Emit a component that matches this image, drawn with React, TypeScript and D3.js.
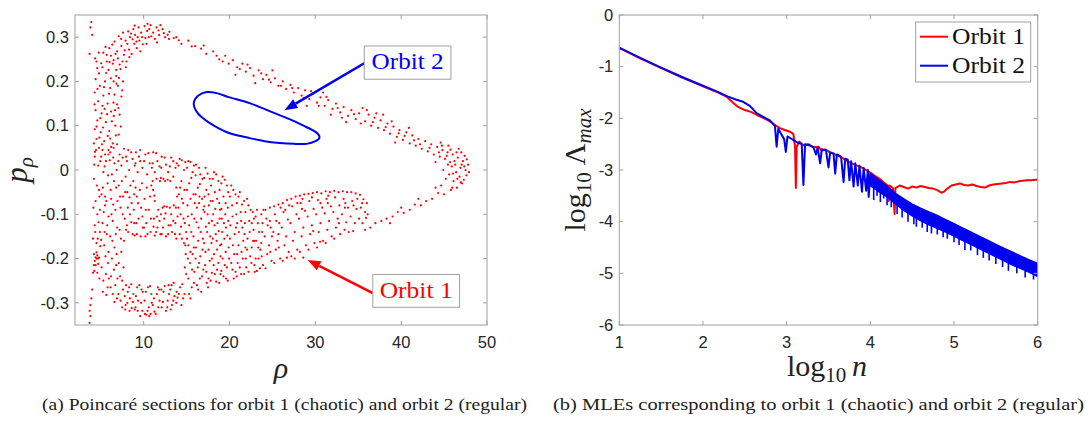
import React from 'react';
import * as d3 from 'd3';

// ---------------- Axis ticks ----------------
const rhoTicks = [10, 20, 30, 40, 50];
const pTicks = [-0.3, -0.2, -0.1, 0, 0.1, 0.2, 0.3];
const nTicks = [1, 2, 3, 4, 5, 6];
const lambdaTicks = [0, -1, -2, -3, -4, -5, -6];

type P = [number, number];

// ---------------- Panel (a): Poincaré section, orbit 1 (chaotic) ----------------
const orbit1LeftEdge: P[] = [
  [3.9, 0.334], [3.8, 0.322], [4.0, 0.305], [3.7, 0.262], [3.8, -0.305], [3.7, -0.318], [3.8, -0.33],
  [3.7, -0.345], [3.9, -0.29], [4.0, -0.27], [4.1, -0.232], [4.2, -0.215],
];
const orbit1UpperBand: P[] = [
  [4.5, 0.245], [5.2, 0.232], [4.8, 0.218], [5.9, 0.226], [6.4, 0.24], [4.4, 0.205], [5.5, 0.2], [6.8, 0.212],
  [7.3, 0.228], [4.9, 0.19], [6.1, 0.185], [7.0, 0.19], [4.3, 0.175], [5.3, 0.168], [6.6, 0.17], [7.5, 0.18],
  [4.7, 0.155], [5.8, 0.15], [6.9, 0.148], [4.4, 0.135], [5.1, 0.128], [6.2, 0.132], [7.2, 0.125], [4.6, 0.112],
  [5.6, 0.108], [6.7, 0.1], [4.3, 0.092], [5.0, 0.085], [6.0, 0.088], [7.1, 0.08], [4.5, 0.07], [5.4, 0.065],
  [6.4, 0.06], [4.8, 0.05], [5.9, 0.045], [4.2, 0.06], [6.9, 0.058], [5.2, 0.145], [6.5, 0.2], [5.7, 0.245],
  [4.6, 0.23], [7.6, 0.2], [6.3, 0.11], [5.5, 0.035],
  [4.35, 0.252], [5.05, 0.241], [5.62, 0.219], [6.17, 0.207], [6.83, 0.195], [7.41, 0.166], [4.62, 0.183],
  [5.38, 0.187], [5.96, 0.172], [6.48, 0.152], [7.05, 0.14], [4.28, 0.148], [4.95, 0.117], [5.74, 0.126],
  [6.52, 0.122], [7.34, 0.098], [4.51, 0.098], [5.26, 0.096], [6.09, 0.071], [6.77, 0.078], [4.33, 0.041],
  [5.14, 0.058], [5.81, 0.077], [6.21, 0.052], [4.77, 0.265], [6.02, 0.244], [7.12, 0.208], [5.45, 0.138],
  [4.84, 0.073], [6.66, 0.135],
];
const orbit1TopArc: P[] = [
  [5.3, 0.265], [6.0, 0.275], [6.6, 0.29], [7.1, 0.302], [7.6, 0.31], [8.2, 0.313], [8.8, 0.318], [9.4, 0.322],
  [10.1, 0.325], [10.8, 0.327], [11.5, 0.322], [12.2, 0.318], [13.0, 0.312], [6.2, 0.258], [6.9, 0.268],
  [7.4, 0.28], [7.9, 0.292], [8.4, 0.3], [9.0, 0.305], [9.7, 0.31], [10.4, 0.314], [11.1, 0.31], [11.8, 0.305],
  [7.0, 0.252], [7.7, 0.26], [8.3, 0.272], [8.9, 0.285], [9.5, 0.292], [10.2, 0.298], [10.9, 0.302], [12.5, 0.3],
  [7.2, 0.238], [8.0, 0.245], [8.6, 0.262], [9.2, 0.275], [9.9, 0.284], [5.7, 0.26], [6.5, 0.248], [8.1, 0.285],
  [9.3, 0.3], [11.3, 0.296], [12.8, 0.305], [13.5, 0.298], [7.8, 0.27], [6.8, 0.226], [8.7, 0.295], [10.6, 0.3],
  [5.55, 0.278], [6.35, 0.283], [7.38, 0.296], [8.52, 0.308], [9.15, 0.29], [9.82, 0.3], [10.65, 0.318],
  [11.72, 0.315], [12.35, 0.309], [7.52, 0.245], [8.34, 0.255], [9.61, 0.268], [10.33, 0.285], [11.55, 0.288],
  [8.95, 0.326], [10.45, 0.33], [6.72, 0.262], [7.92, 0.232], [12.95, 0.296], [11.95, 0.327],
];
const orbit1OuterBand: P[] = [
  [13.8, 0.3], [14.4, 0.285], [15.2, 0.292], [16.0, 0.28], [16.7, 0.274], [17.3, 0.262], [18.1, 0.268],
  [18.8, 0.25], [19.5, 0.258], [19.9, 0.24], [20.4, 0.248], [20.9, 0.232], [21.5, 0.24], [21.9, 0.222],
  [22.4, 0.23], [22.8, 0.213], [23.4, 0.225], [23.9, 0.205], [24.3, 0.215], [24.8, 0.198], [25.3, 0.207],
  [25.7, 0.19], [26.2, 0.2], [26.6, 0.183], [27.1, 0.192], [27.5, 0.175], [28.0, 0.185], [20.7, 0.215],
  [23.0, 0.196], [25.0, 0.225], [28.4, 0.168], [28.8, 0.18], [29.3, 0.16], [29.7, 0.172], [30.2, 0.152],
  [30.6, 0.164], [31.1, 0.145], [31.5, 0.158], [32.0, 0.138], [32.4, 0.15], [32.9, 0.13], [33.3, 0.142],
  [33.8, 0.122], [34.2, 0.135], [34.7, 0.115], [35.1, 0.128], [29.0, 0.145], [31.8, 0.125], [30.9, 0.175],
  [33.6, 0.108], [35.5, 0.14], [35.8, 0.11], [36.2, 0.125], [36.5, 0.1], [36.9, 0.118], [37.3, 0.095],
  [37.6, 0.112], [38.0, 0.09], [38.4, 0.105], [38.7, 0.082], [39.1, 0.098], [39.5, 0.075], [39.8, 0.09],
  [40.2, 0.068], [40.6, 0.085], [41.0, 0.06], [41.3, 0.078], [41.7, 0.055], [42.0, 0.07], [36.0, 0.135],
  [37.9, 0.125], [39.3, 0.062], [40.9, 0.095], [38.9, 0.11],
  [14.1, 0.293], [15.6, 0.279], [17.0, 0.281], [18.5, 0.258], [19.2, 0.245], [21.2, 0.228], [22.1, 0.238],
  [23.7, 0.218], [24.6, 0.204], [26.0, 0.19], [27.3, 0.185], [28.6, 0.162], [29.5, 0.178], [30.4, 0.145],
  [31.3, 0.165], [32.6, 0.14], [33.1, 0.118], [34.5, 0.126], [35.3, 0.105], [36.7, 0.108], [37.1, 0.128],
  [38.2, 0.097], [39.7, 0.083], [40.4, 0.077], [41.5, 0.067], [42.2, 0.058], [43.3, 0.05],
];
const orbit1Tip: P[] = [
  [42.4, 0.048], [42.8, 0.065], [43.1, 0.042], [43.5, 0.058], [43.8, 0.035], [44.2, 0.052], [44.5, 0.03],
  [44.8, 0.045], [45.1, 0.025], [45.4, 0.04], [45.7, 0.018], [46.0, 0.035], [46.3, 0.012], [46.6, 0.028],
  [46.9, 0.005], [47.2, 0.02], [47.5, 0.0], [47.8, 0.012], [47.6, -0.012], [47.3, -0.022], [46.8, -0.015],
  [46.4, -0.005], [45.9, 0.008], [45.5, 0.055], [44.6, 0.062], [47.0, 0.04], [46.1, -0.025], [45.6, -0.01],
  [44.9, 0.0], [44.0, 0.018], [47.9, -0.005], [46.7, 0.048], [45.2, -0.02], [47.4, 0.032],
  [44.4, 0.04], [45.3, 0.032], [46.2, 0.02], [47.05, 0.012], [46.45, 0.04], [45.75, 0.046], [44.75, 0.055],
  [47.65, 0.024], [46.95, -0.028], [45.95, -0.04], [44.65, -0.035], [46.55, -0.02], [45.45, 0.012],
  [47.35, 0.008], [46.05, -0.008],
];
const orbit1ReturnBranch: P[] = [
  [47.1, -0.03], [46.5, -0.04], [45.8, -0.045], [45.0, -0.055], [44.3, -0.052], [43.6, -0.065], [42.9, -0.07],
  [42.3, -0.08], [41.6, -0.078], [41.0, -0.09], [40.3, -0.097], [39.6, -0.095], [39.0, -0.105], [38.3, -0.11],
  [37.7, -0.115], [37.0, -0.12], [36.4, -0.13], [35.8, -0.135], [44.0, -0.04], [42.0, -0.065], [40.0, -0.085],
  [38.7, -0.12],
];
const orbit1LowerLeft: P[] = [
  [4.3, 0.03], [4.7, 0.01], [4.2, -0.02], [4.8, -0.045], [4.4, -0.07], [4.6, -0.1], [4.3, -0.125], [4.9, -0.14],
  [4.5, -0.165], [4.2, -0.19], [4.7, -0.2], [4.4, -0.215], [4.6, -0.232], [4.9, -0.09], [4.1, -0.155],
  [4.4, -0.197], [4.6, -0.193], [4.8, -0.198], [4.5, -0.2],
  [4.25, 0.012], [4.55, -0.035], [4.85, -0.06], [4.15, -0.085], [4.75, -0.118], [4.35, -0.14], [4.65, -0.155],
  [4.95, -0.172], [4.25, -0.228], [4.85, -0.245], [4.45, 0.045], [4.95, 0.02], [4.5, -0.186], [4.3, -0.205],
  [4.7, -0.212],
  [5.2, 0.045], [5.6, 0.02], [5.3, -0.005], [5.8, -0.03], [5.1, -0.055], [5.5, -0.08], [5.9, -0.105],
  [5.2, -0.12], [5.7, -0.145], [5.4, -0.17], [5.9, -0.185], [5.1, -0.22], [5.6, -0.235], [5.3, -0.25],
  [5.8, -0.265], [5.5, -0.06], [5.9, 0.035],
  [5.05, 0.03], [5.45, 0.008], [5.85, -0.012], [5.25, -0.04], [5.65, -0.07], [5.35, -0.095], [5.75, -0.125],
  [5.05, -0.158], [5.55, -0.195], [5.85, -0.21], [5.25, -0.275], [5.65, -0.282], [5.45, -0.14], [5.95, -0.245],
  [6.1, 0.04], [6.6, 0.015], [6.3, -0.01], [6.8, -0.04], [6.2, -0.065], [6.7, -0.09], [6.4, -0.115],
  [6.9, -0.13], [6.1, -0.15], [6.6, -0.175], [6.3, -0.2], [6.8, -0.215], [6.2, -0.24], [6.7, -0.26],
  [6.4, -0.28], [6.9, -0.29], [6.5, 0.05],
  [6.05, 0.022], [6.45, 0.028], [6.85, 0.0], [6.55, -0.025], [6.15, -0.045], [6.45, -0.078], [6.95, -0.07],
  [6.25, -0.1], [6.75, -0.145], [6.35, -0.16], [6.85, -0.19], [6.55, -0.225], [6.15, -0.265], [6.6, -0.298],
  [6.95, -0.245],
  [7.2, 0.035], [7.7, 0.048], [7.4, 0.01], [7.9, -0.015], [7.1, -0.035], [7.6, -0.06], [7.3, -0.085],
  [7.8, -0.11], [7.2, -0.135], [7.7, -0.16], [7.4, -0.185], [7.1, -0.21], [7.6, -0.27], [7.3, -0.295],
  [7.9, -0.305], [7.5, -0.25], [7.8, -0.285],
  [7.05, 0.02], [7.55, 0.028], [7.95, 0.03], [7.45, -0.025], [7.85, -0.05], [7.25, -0.06], [7.55, -0.1],
  [7.95, -0.135], [7.35, -0.155], [7.65, -0.22], [7.25, -0.24], [7.95, -0.26], [7.05, -0.28], [7.5, -0.31],
  [7.85, -0.315],
  [8.2, 0.045], [8.7, 0.025], [8.3, 0.0], [8.8, -0.025], [8.1, -0.05], [8.6, -0.075], [8.4, -0.1],
  [8.9, -0.12], [8.2, -0.14], [8.7, -0.145], [8.3, -0.265], [8.8, -0.28], [8.1, -0.3], [8.6, -0.312],
  [8.4, -0.29], [8.9, -0.055],
  [8.05, 0.02], [8.55, 0.04], [8.95, 0.01], [8.45, -0.035], [8.35, -0.062], [8.85, -0.09], [8.15, -0.085],
  [8.55, -0.118], [8.05, -0.125], [8.95, -0.148], [8.55, -0.258], [8.15, -0.275], [8.75, -0.298],
  [8.35, -0.318], [8.95, -0.315],
  [9.1, 0.04], [9.6, 0.02], [9.3, -0.005], [9.8, -0.03], [9.2, -0.06], [9.7, -0.085], [9.4, -0.11],
  [9.9, -0.13], [9.2, -0.145], [9.5, -0.26], [9.1, -0.285], [9.7, -0.3], [9.3, -0.318], [9.9, -0.275],
  [9.6, 0.045],
  [9.05, 0.015], [9.45, 0.03], [9.85, 0.005], [9.55, -0.045], [9.05, -0.04], [9.35, -0.075], [9.85, -0.105],
  [9.15, -0.12], [9.65, -0.15], [9.25, -0.265], [9.75, -0.27], [9.35, -0.295], [9.85, -0.318], [9.05, -0.31],
  [9.6, -0.33],
  [10.2, 0.035], [10.7, 0.015], [10.4, -0.01], [10.9, -0.035], [10.1, -0.065], [10.6, -0.09], [10.3, -0.12],
  [10.8, -0.14], [10.5, -0.265], [10.1, -0.295], [10.6, -0.31], [10.3, -0.327], [10.8, -0.325], [10.9, -0.28],
  [10.2, -0.15],
  [10.05, 0.02], [10.55, 0.038], [10.95, 0.005], [10.35, -0.04], [10.75, -0.06], [10.25, -0.09],
  [10.85, -0.11], [10.45, -0.145], [10.05, -0.13], [10.75, -0.262], [10.25, -0.275], [10.95, -0.3],
  [10.45, -0.318], [10.65, -0.33], [10.15, -0.325],
  [11.1, 0.04], [11.6, 0.02], [11.3, -0.005], [11.1, -0.045], [11.3, -0.07], [11.7, -0.09], [11.2, -0.11],
  [11.6, -0.13], [11.3, -0.148], [11.8, -0.27], [11.2, -0.29], [11.7, -0.31], [11.4, -0.325], [11.9, -0.025],
  [11.5, -0.02],
  [11.05, 0.015], [11.45, 0.038], [11.85, 0.008], [11.05, -0.025], [11.25, -0.058], [11.55, -0.105],
  [11.85, -0.115], [11.45, -0.14], [11.95, -0.145], [11.15, -0.128], [11.55, -0.28], [11.05, -0.305],
  [11.85, -0.295], [11.25, -0.32], [11.65, -0.265],
  [12.1, 0.03], [12.6, 0.012], [12.3, -0.02], [12.8, -0.022], [12.2, -0.085], [12.7, -0.083], [12.4, -0.11],
  [12.9, -0.125], [12.1, -0.145], [12.6, -0.15], [12.3, -0.275], [12.8, -0.295], [12.1, -0.31], [12.6, -0.318],
  [12.9, -0.26],
  [12.05, 0.005], [12.45, 0.028], [12.85, -0.005], [12.5, -0.025], [12.0, -0.018], [12.4, -0.082],
  [12.0, -0.1], [12.55, -0.098], [12.85, -0.145], [12.25, -0.13], [12.45, -0.262], [12.95, -0.28],
  [12.25, -0.298], [12.75, -0.31], [12.05, -0.27],
  [13.2, 0.028], [13.7, 0.005], [13.1, -0.025], [13.8, -0.04], [13.9, -0.06], [13.5, -0.08], [13.2, -0.1],
  [13.7, -0.12], [13.3, -0.14], [13.8, -0.155], [13.1, -0.27], [13.6, -0.285], [13.3, -0.305], [13.8, -0.3],
  [13.5, -0.255],
  [13.05, 0.008], [13.45, 0.02], [13.85, 0.015], [13.45, -0.015], [13.75, -0.085], [13.05, -0.085],
  [13.45, -0.115], [13.95, -0.105], [13.15, -0.125], [13.65, -0.145], [13.25, -0.26], [13.85, -0.275],
  [13.45, -0.295], [13.95, -0.288], [13.15, -0.315],
  [14.2, 0.025], [14.7, 0.0], [14.4, -0.025], [14.1, -0.055], [14.6, -0.075], [14.3, -0.1], [14.8, -0.12],
  [14.2, -0.145], [14.7, -0.165], [14.9, -0.19], [14.5, -0.258], [14.1, -0.28], [14.6, -0.29], [14.8, -0.22],
  [14.4, -0.305],
  [14.05, 0.01], [14.45, 0.022], [14.85, 0.018], [14.25, -0.04], [14.75, -0.045], [14.45, -0.065],
  [14.05, -0.085], [14.65, -0.11], [14.35, -0.128], [14.95, -0.14], [14.45, -0.155], [14.85, -0.17],
  [14.95, -0.235], [14.25, -0.265], [14.75, -0.28],
  [15.2, 0.02], [15.7, -0.005], [15.3, -0.03], [15.8, -0.055], [15.1, -0.08], [15.6, -0.1], [15.3, -0.125],
  [15.8, -0.15], [15.2, -0.17], [15.7, -0.19], [15.4, -0.21], [15.9, -0.23], [15.2, -0.245], [15.6, -0.265],
  [15.3, -0.28], [15.9, -0.11],
  [15.05, 0.005], [15.45, 0.018], [15.85, 0.01], [15.55, -0.018], [15.05, -0.045], [15.45, -0.065],
  [15.95, -0.075], [15.15, -0.105], [15.55, -0.14], [15.05, -0.155], [15.85, -0.175], [15.45, -0.185],
  [15.15, -0.2], [15.65, -0.225], [15.85, -0.255], [15.45, -0.29],
  [16.1, 0.012], [16.6, -0.01], [16.3, -0.04], [16.8, -0.065], [16.2, -0.085], [16.7, -0.11], [16.4, -0.13],
  [16.9, -0.155], [16.1, -0.175], [16.6, -0.195], [16.3, -0.22], [16.8, -0.24], [16.2, -0.26], [16.7, -0.275],
  [16.5, -0.06],
  [16.05, -0.012], [16.45, 0.005], [16.85, -0.02], [16.55, -0.032], [16.05, -0.055], [16.45, -0.075],
  [16.95, -0.09], [16.15, -0.118], [16.65, -0.14], [16.35, -0.16], [16.85, -0.18], [16.05, -0.2],
  [16.45, -0.21], [16.95, -0.225], [16.55, -0.245], [16.35, -0.27],
  [17.2, 0.005], [17.7, -0.02], [17.3, -0.045], [17.8, -0.07], [17.1, -0.095], [17.6, -0.12], [17.4, -0.14],
  [17.9, -0.165], [17.2, -0.185], [17.7, -0.205], [17.3, -0.23], [17.8, -0.25], [17.5, -0.265], [17.1, -0.06],
  [17.6, -0.08],
  [17.05, -0.018], [17.45, -0.008], [17.85, -0.035], [17.55, -0.055], [17.05, -0.082], [17.45, -0.1],
  [17.95, -0.115], [17.25, -0.128], [17.75, -0.15], [17.05, -0.165], [17.55, -0.18], [17.95, -0.2],
  [17.15, -0.215], [17.55, -0.245], [17.95, -0.232], [17.35, -0.255],
  [18.2, -0.005], [18.7, -0.025], [18.3, -0.05], [18.8, -0.075], [18.1, -0.1], [18.6, -0.12], [18.4, -0.145],
  [18.9, -0.17], [18.2, -0.19], [18.7, -0.21], [18.3, -0.235], [18.8, -0.255], [18.5, -0.16], [18.9, -0.09],
  [18.05, -0.02], [18.45, -0.01], [18.85, -0.045], [18.55, -0.065], [18.05, -0.07], [18.35, -0.088],
  [18.85, -0.11], [18.25, -0.125], [18.75, -0.138], [18.05, -0.155], [18.55, -0.18], [18.95, -0.195],
  [18.15, -0.215], [18.55, -0.225], [18.95, -0.235], [18.45, -0.252],
  [19.2, -0.015], [19.7, -0.035], [19.3, -0.06], [19.8, -0.085], [19.1, -0.11], [19.6, -0.13], [19.4, -0.155],
  [19.9, -0.175], [19.2, -0.2], [19.7, -0.22], [19.3, -0.24], [19.8, -0.25], [19.5, -0.1],
  [19.05, -0.03], [19.45, -0.022], [19.85, -0.05], [19.55, -0.075], [19.05, -0.088], [19.35, -0.12],
  [19.85, -0.115], [19.15, -0.14], [19.75, -0.148], [19.05, -0.168], [19.55, -0.185], [19.95, -0.2],
  [19.45, -0.215], [19.05, -0.228], [19.6, -0.245],
];
const orbit1RightLobe: P[] = [
  [20.2, -0.035], [20.7, -0.055], [20.3, -0.08], [20.8, -0.1], [20.1, -0.125], [20.6, -0.145], [20.4, -0.17],
  [20.9, -0.19], [20.2, -0.21], [20.7, -0.23], [20.5, -0.245], [20.9, -0.12],
  [21.2, -0.05], [21.7, -0.07], [21.3, -0.095], [21.8, -0.12], [21.1, -0.14], [21.6, -0.16], [21.4, -0.185],
  [21.9, -0.2], [21.2, -0.22], [21.7, -0.235], [21.5, -0.13],
  [22.2, -0.08], [22.7, -0.095], [22.3, -0.115], [22.8, -0.135], [22.1, -0.155], [22.6, -0.175], [22.4, -0.195],
  [22.9, -0.215], [22.2, -0.23], [22.6, -0.12], [22.9, -0.16],
  [23.2, -0.09], [23.7, -0.1], [23.3, -0.12], [23.8, -0.14], [23.1, -0.16], [23.6, -0.18], [23.4, -0.2],
  [23.9, -0.215], [23.2, -0.228], [23.7, -0.165],
  [24.2, -0.09], [24.7, -0.085], [24.3, -0.11], [24.8, -0.13], [24.1, -0.15], [24.6, -0.17], [24.4, -0.19],
  [24.9, -0.205], [24.2, -0.222], [24.7, -0.115],
  [25.2, -0.082], [25.7, -0.078], [25.3, -0.1], [25.8, -0.12], [25.1, -0.14], [25.6, -0.16], [25.4, -0.18],
  [25.9, -0.2], [25.2, -0.21], [25.7, -0.145],
  [26.2, -0.075], [26.7, -0.068], [26.3, -0.095], [26.8, -0.112], [26.1, -0.13], [26.6, -0.15], [26.4, -0.17],
  [26.9, -0.185], [26.2, -0.205], [26.7, -0.198], [26.5, -0.09],
  [27.2, -0.065], [27.7, -0.06], [27.3, -0.082], [27.8, -0.1], [27.1, -0.12], [27.6, -0.14], [27.4, -0.16],
  [27.9, -0.18], [27.2, -0.195], [27.6, -0.2], [27.9, -0.075],
  [28.2, -0.058], [28.7, -0.055], [28.3, -0.075], [28.8, -0.092], [28.1, -0.11], [28.6, -0.13], [28.4, -0.15],
  [28.9, -0.17], [28.2, -0.185], [28.6, -0.198], [28.5, -0.065],
  [29.2, -0.054], [29.7, -0.052], [29.3, -0.07], [29.8, -0.088], [29.1, -0.105], [29.6, -0.125], [29.4, -0.145],
  [29.9, -0.165], [29.2, -0.18], [29.6, -0.062],
  [30.2, -0.05], [30.7, -0.053], [30.3, -0.068], [30.8, -0.085], [30.1, -0.1], [30.6, -0.12], [30.4, -0.14],
  [30.9, -0.16], [30.2, -0.175], [30.6, -0.075],
  [31.2, -0.048], [31.7, -0.05], [31.3, -0.065], [31.8, -0.082], [31.1, -0.098], [31.6, -0.115], [31.4, -0.135],
  [31.9, -0.15], [31.2, -0.165], [31.5, -0.058],
  [32.2, -0.047], [32.7, -0.05], [32.3, -0.062], [32.8, -0.08], [32.1, -0.095], [32.6, -0.11], [32.4, -0.13],
  [32.9, -0.145], [32.2, -0.155],
  [33.2, -0.048], [33.7, -0.05], [33.3, -0.065], [33.8, -0.085], [33.1, -0.1], [33.6, -0.118], [33.4, -0.135],
  [33.9, -0.14], [33.5, -0.075],
  [34.2, -0.05], [34.7, -0.053], [34.3, -0.07], [34.8, -0.088], [34.1, -0.105], [34.6, -0.12], [34.4, -0.138],
  [34.9, -0.065],
  [35.2, -0.056], [35.6, -0.066], [35.3, -0.085], [35.8, -0.095], [35.1, -0.11], [35.5, -0.12], [35.9, -0.108],
  [20.05, -0.06], [20.45, -0.045], [20.85, -0.075], [20.35, -0.105], [20.75, -0.13], [20.05, -0.155],
  [20.55, -0.19], [20.95, -0.21], [20.35, -0.225], [20.85, -0.24], [21.05, -0.06], [21.45, -0.078],
  [21.85, -0.095], [21.35, -0.115], [21.75, -0.145], [21.05, -0.17], [21.55, -0.2], [21.95, -0.22],
  [21.35, -0.235], [21.85, -0.175],
  [22.05, -0.065], [22.45, -0.09], [22.85, -0.11], [22.35, -0.14], [22.75, -0.16], [22.05, -0.18],
  [22.55, -0.21], [22.95, -0.23], [23.05, -0.105], [23.45, -0.14], [23.85, -0.12], [23.35, -0.175],
  [23.75, -0.195], [23.05, -0.2], [23.55, -0.222], [23.95, -0.09],
  [24.45, -0.125], [24.75, -0.185], [24.95, -0.15], [25.45, -0.115], [25.75, -0.175], [25.95, -0.085],
  [26.95, -0.08], [28.45, -0.088], [29.75, -0.138], [30.55, -0.162], [31.45, -0.075], [32.75, -0.12],
  [33.45, -0.085], [34.45, -0.08], [35.45, -0.075], [36.1, -0.1], [36.0, -0.075],
];
const orbit1Points: P[] = [
  ...orbit1LeftEdge, ...orbit1UpperBand, ...orbit1TopArc, ...orbit1OuterBand, ...orbit1Tip,
  ...orbit1ReturnBranch, ...orbit1LowerLeft, ...orbit1RightLobe,
];

// ---------------- Panel (a): orbit 2 (regular) closed curve ----------------
const orbit2Section: P[] = [
  [15.84, 0.151], [16.3, 0.167], [17.35, 0.176], [18.63, 0.173], [20.02, 0.164], [22.35, 0.151],
  [24.67, 0.133], [27.0, 0.115], [28.74, 0.099], [30.02, 0.086], [30.49, 0.074], [30.02, 0.065],
  [28.98, 0.059], [27.58, 0.059], [25.84, 0.061], [24.09, 0.065], [22.35, 0.072], [20.02, 0.083],
  [18.28, 0.099], [16.77, 0.119], [16.07, 0.135],
];

// ---------------- Panel (b): MLE curves ----------------
const mleOrbit1: P[] = [
  [1.0, -0.64], [1.25, -0.84], [1.5, -1.03], [1.75, -1.21], [2.0, -1.38], [2.15, -1.48], [2.28, -1.58],
  [2.36, -1.7], [2.42, -1.78], [2.5, -1.84], [2.58, -1.88], [2.65, -1.94], [2.72, -1.99], [2.8, -2.06],
  [2.87, -2.14], [2.92, -2.19], [2.97, -2.22], [3.04, -2.26], [3.08, -2.3], [3.1, -2.55], [3.11, -3.35],
  [3.12, -2.55], [3.15, -2.45], [3.2, -2.52], [3.26, -2.5], [3.32, -2.56], [3.38, -2.55], [3.42, -2.63],
  [3.46, -2.6], [3.52, -2.66], [3.58, -2.7], [3.64, -2.74], [3.7, -2.8], [3.76, -2.86], [3.82, -2.9],
  [3.88, -2.94], [3.94, -2.99], [4.0, -3.05], [4.06, -3.12], [4.12, -3.18], [4.18, -3.27], [4.21, -3.3],
  [4.22, -3.6], [4.23, -3.3], [4.27, -3.35], [4.29, -3.85], [4.3, -3.35], [4.35, -3.3], [4.4, -3.33],
  [4.45, -3.36], [4.5, -3.32], [4.55, -3.34], [4.6, -3.31], [4.65, -3.33], [4.7, -3.35], [4.75, -3.36],
  [4.8, -3.39], [4.85, -3.44], [4.88, -3.42], [4.92, -3.36], [4.97, -3.3], [5.02, -3.28], [5.07, -3.26],
  [5.12, -3.29], [5.17, -3.3], [5.22, -3.28], [5.27, -3.31], [5.32, -3.33], [5.37, -3.34], [5.42, -3.3],
  [5.47, -3.28], [5.52, -3.27], [5.57, -3.26], [5.62, -3.25], [5.67, -3.23], [5.72, -3.24], [5.77, -3.22],
  [5.82, -3.21], [5.87, -3.2], [5.92, -3.2], [5.97, -3.19], [6.0, -3.19],
];
const mleOrbit2: P[] = [
  [1.0, -0.63], [1.25, -0.83], [1.5, -1.02], [1.75, -1.2], [2.0, -1.37], [2.15, -1.47], [2.3, -1.58],
  [2.4, -1.64], [2.48, -1.68], [2.56, -1.76], [2.64, -1.9], [2.72, -1.97], [2.8, -2.04], [2.86, -2.15],
  [2.88, -2.55], [2.9, -2.2], [2.94, -2.32], [2.97, -2.4], [2.99, -2.65], [3.01, -2.35], [3.06, -2.4],
  [3.12, -2.46], [3.18, -2.5], [3.2, -3.29], [3.22, -2.5], [3.27, -2.52], [3.32, -2.56], [3.35, -2.7],
  [3.37, -2.57], [3.4, -2.87], [3.42, -2.6], [3.47, -2.62], [3.5, -2.95], [3.52, -2.66], [3.56, -2.68],
  [3.58, -3.07], [3.6, -2.7], [3.65, -2.74], [3.68, -3.23], [3.7, -2.78], [3.73, -2.8], [3.75, -3.2],
  [3.77, -2.83], [3.8, -3.32], [3.82, -2.87], [3.85, -3.3], [3.87, -2.92], [3.9, -3.42], [3.92, -2.96],
  [3.95, -3.4], [3.97, -3.0], [3.98, -3.52], [4.0, -3.06],
];
const mleOrbit2BandX = [4.0, 4.1, 4.2, 4.3, 4.4, 4.5, 4.6, 4.7, 4.8, 4.9, 5.0, 5.1, 5.2, 5.3, 5.4, 5.5, 5.6, 5.7, 5.8, 5.9, 6.0];
const mleOrbit2BandUpper = [-3.07, -3.19, -3.31, -3.45, -3.56, -3.66, -3.74, -3.81, -3.88, -3.96, -4.04, -4.12, -4.2, -4.28, -4.36, -4.44, -4.52, -4.59, -4.67, -4.74, -4.81];
const mleOrbit2BandLower = [-3.3, -3.42, -3.52, -3.65, -3.78, -3.89, -3.98, -4.06, -4.13, -4.2, -4.28, -4.36, -4.44, -4.52, -4.6, -4.68, -4.76, -4.84, -4.91, -4.98, -5.06];
// downward spikes inside the dense band: [log10 n, top, tip]
const mleOrbit2Spikes: [number, number, number][] = [
  [4.04, -3.1, -3.58], [4.08, -3.15, -3.5], [4.12, -3.2, -3.62], [4.16, -3.25, -3.55], [4.2, -3.3, -3.68],
  [4.25, -3.38, -3.72], [4.32, -3.47, -3.85], [4.38, -3.54, -3.92], [4.45, -3.61, -4.0], [4.52, -3.67, -4.05],
  [4.55, -3.7, -4.1], [4.62, -3.75, -4.12], [4.68, -3.8, -4.2], [4.73, -3.83, -4.23], [4.8, -3.88, -4.25],
  [4.87, -3.94, -4.3], [4.92, -3.98, -4.33], [5.0, -4.04, -4.4], [5.06, -4.09, -4.45], [5.13, -4.14, -4.55],
  [5.2, -4.2, -4.56], [5.28, -4.26, -4.65], [5.35, -4.32, -4.7], [5.42, -4.38, -4.75], [5.5, -4.44, -4.82],
  [5.58, -4.5, -4.88], [5.65, -4.56, -4.95], [5.75, -4.63, -5.0], [5.85, -4.7, -5.08], [5.95, -4.78, -5.12],
];

const RED = '#ff0000';
const BLUE = '#0000f0';
const FRAME = '#a0a0a0';
const TICKTXT = '#262626';
const SANS = '"Liberation Sans", Arial, Helvetica, sans-serif';
const SERIF = '"Liberation Serif", "Times New Roman", serif';

function Frame({ x, y, xTicks, yTicks }: { x: d3.ScaleLinear<number, number>; y: d3.ScaleLinear<number, number>; xTicks: number[]; yTicks: number[] }) {
  const [x0, x1] = x.range();
  const [y1, y0] = y.range();
  const tl = 4;
  return (
    <g>
      <rect x={x0} y={y0} width={x1 - x0} height={y1 - y0} fill="none" stroke={FRAME} strokeWidth={1} />
      {xTicks.map((t) => (
        <g key={'x' + t}>
          <line x1={x(t)} x2={x(t)} y1={y1} y2={y1 - tl} stroke={FRAME} />
          <line x1={x(t)} x2={x(t)} y1={y0} y2={y0 + tl} stroke={FRAME} />
          <text x={x(t)} y={y1 + 23} textAnchor="middle" fontFamily={SANS} fontSize={16.5} fill={TICKTXT}>{String(t)}</text>
        </g>
      ))}
      {yTicks.map((t) => (
        <g key={'y' + t}>
          <line x1={x0} x2={x0 + tl} y1={y(t)} y2={y(t)} stroke={FRAME} />
          <line x1={x1} x2={x1 - tl} y1={y(t)} y2={y(t)} stroke={FRAME} />
          <text x={x0 - 6} y={y(t)} dy="0.35em" textAnchor="end" fontFamily={SANS} fontSize={16.5} fill={TICKTXT}>{String(t)}</text>
        </g>
      ))}
    </g>
  );
}

function Arrow({ from, to, color }: { from: [number, number]; to: [number, number]; color: string }) {
  const ang = Math.atan2(to[1] - from[1], to[0] - from[0]);
  const L = 13, W = 5;
  const bx = to[0] - L * Math.cos(ang), by = to[1] - L * Math.sin(ang);
  const px = -Math.sin(ang) * W, py = Math.cos(ang) * W;
  return (
    <g>
      <line x1={from[0]} y1={from[1]} x2={bx} y2={by} stroke={color} strokeWidth={2.5} />
      <path d={`M${to[0]},${to[1]}L${bx + px},${by + py}L${bx - px},${by - py}Z`} fill={color} />
    </g>
  );
}

export default function App() {
  const xL = d3.scaleLinear().domain([2, 50]).range([75, 487]);
  const yL = d3.scaleLinear().domain([-0.35, 0.35]).range([325, 15]);
  const xR = d3.scaleLinear().domain([1, 6]).range([619.3, 1037.7]);
  const yR = d3.scaleLinear().domain([-6, 0]).range([325, 15]);

  const ellipse = d3.line<P>().x((d) => xL(d[0])).y((d) => yL(d[1])).curve(d3.curveCardinalClosed.tension(0.2))(orbit2Section) || '';
  const lineR = d3.line<P>().x((d) => xR(d[0])).y((d) => yR(d[1]));
  const band = d3.area<number>()
    .x((_, i) => xR(mleOrbit2BandX[i]))
    .y0((_, i) => yR(mleOrbit2BandLower[i]))
    .y1((_, i) => yR(mleOrbit2BandUpper[i]))(mleOrbit2BandX) || '';

  // annotation anchors (data coordinates)
  const o2Box = { x0: 35.7, x1: 45.8, y0: 0.28, y1: 0.205 };
  const o2Tail: P = [35.7, 0.241];
  const o2Tip: P = [26.4, 0.135];
  const o1Box = { x0: 36.7, x1: 46.8, y0: -0.236, y1: -0.31 };
  const o1Tail: P = [36.7, -0.278];
  const o1Tip: P = [29.1, -0.203];

  return (
    <svg width={1088} height={425} style={{ position: 'absolute', left: 0, top: 0, background: '#fff' }}>
      <rect width={1088} height={425} fill="#fff" />
      {/* ---------- Panel (a) ---------- */}
      <g>
        <g>
          {orbit1Points.map((d, i) => (
            <circle key={i} cx={xL(d[0])} cy={yL(d[1])} r={1.1} fill={RED} />
          ))}
        </g>
        <path d={ellipse} fill="none" stroke={BLUE} strokeWidth={2} />
        <Frame x={xL} y={yL} xTicks={rhoTicks} yTicks={pTicks} />
        {/* Orbit 2 callout */}
        <Arrow from={[xL(o2Tail[0]), yL(o2Tail[1])]} to={[xL(o2Tip[0]), yL(o2Tip[1])]} color={BLUE} />
        <rect x={xL(o2Box.x0)} y={yL(o2Box.y0)} width={xL(o2Box.x1) - xL(o2Box.x0)} height={yL(o2Box.y1) - yL(o2Box.y0)} fill="#fff" stroke={FRAME} strokeWidth={1} />
        <text x={(xL(o2Box.x0) + xL(o2Box.x1)) / 2} y={yL(o2Box.y1) - 10.5} textAnchor="middle" fontFamily={SERIF} fontSize={23} fill={BLUE} textLength={72} lengthAdjust="spacingAndGlyphs">Orbit 2</text>
        {/* Orbit 1 callout */}
        <Arrow from={[xL(o1Tail[0]), yL(o1Tail[1])]} to={[xL(o1Tip[0]), yL(o1Tip[1])]} color={RED} />
        <rect x={xL(o1Box.x0)} y={yL(o1Box.y0)} width={xL(o1Box.x1) - xL(o1Box.x0)} height={yL(o1Box.y1) - yL(o1Box.y0)} fill="#fff" stroke={FRAME} strokeWidth={1} />
        <text x={(xL(o1Box.x0) + xL(o1Box.x1)) / 2} y={yL(o1Box.y1) - 9.5} textAnchor="middle" fontFamily={SERIF} fontSize={23} fill={RED} textLength={73} lengthAdjust="spacingAndGlyphs">Orbit 1</text>
        {/* axis labels */}
        <text x={281} y={378} textAnchor="middle" fontFamily={SERIF} fontStyle="italic" fontSize={30} fill="#222">ρ</text>
        <text transform="translate(27,170) rotate(-90)" textAnchor="middle" fontFamily={SERIF} fontStyle="italic" fontSize={31} fill="#222">
          p<tspan fontSize={21} dy={6}>ρ</tspan>
        </text>
        <text x={284.5} y={410} textAnchor="middle" fontFamily={SERIF} fontSize={16.5} fill="#222" textLength={485} lengthAdjust="spacingAndGlyphs">(a) Poincaré sections for orbit 1 (chaotic) and orbit 2 (regular)</text>
      </g>

      {/* ---------- Panel (b) ---------- */}
      <g>
        <defs>
          <clipPath id="clipR">
            <rect x={619.3} y={15} width={1037.7 - 619.3} height={310} />
          </clipPath>
        </defs>
        <g clipPath="url(#clipR)">
          <path d={lineR(mleOrbit1) || ''} fill="none" stroke={RED} strokeWidth={2} strokeLinejoin="round" />
          <path d={lineR(mleOrbit2) || ''} fill="none" stroke={BLUE} strokeWidth={2} strokeLinejoin="round" />
          <path d={band} fill={BLUE} stroke={BLUE} strokeWidth={1.5} />
          {mleOrbit2Spikes.map((s, i) => (
            <line key={i} x1={xR(s[0])} x2={xR(s[0])} y1={yR(s[1])} y2={yR(s[2])} stroke={BLUE} strokeWidth={1.6} />
          ))}
        </g>
        <Frame x={xR} y={yR} xTicks={nTicks} yTicks={lambdaTicks} />
        {/* legend */}
        <rect x={915.7} y={22} width={115} height={60} fill="#fff" stroke={FRAME} strokeWidth={1} />
        <line x1={920} x2={948} y1={36.7} y2={36.7} stroke={RED} strokeWidth={2} />
        <line x1={920} x2={948} y1={65.7} y2={65.7} stroke={BLUE} strokeWidth={2} />
        <text x={952} y={44} fontFamily={SERIF} fontSize={23} fill="#111" textLength={73} lengthAdjust="spacingAndGlyphs">Orbit 1</text>
        <text x={952} y={72.5} fontFamily={SERIF} fontSize={23} fill="#111" textLength={73} lengthAdjust="spacingAndGlyphs">Orbit 2</text>
        {/* axis labels */}
        <text y={376} fontFamily={SERIF} fontSize={30} fill="#222">
          <tspan x={787}>log</tspan>
          <tspan fontSize={21} dy={6}>10</tspan>
          <tspan x={852} dy={-6} fontStyle="italic">n</tspan>
        </text>
        <text transform="translate(585,170) rotate(-90)" textAnchor="middle" fontFamily={SERIF} fontSize={30} fill="#222">
          log<tspan fontSize={21} dy={6}>10</tspan><tspan dx={7} dy={-6}>Λ</tspan><tspan fontSize={21} dy={6} fontStyle="italic">max</tspan>
        </text>
        <text x={818.5} y={410} textAnchor="middle" fontFamily={SERIF} fontSize={16.5} fill="#222" textLength={531} lengthAdjust="spacingAndGlyphs">(b) MLEs corresponding to orbit 1 (chaotic) and orbit 2 (regular)</text>
      </g>
    </svg>
  );
}
